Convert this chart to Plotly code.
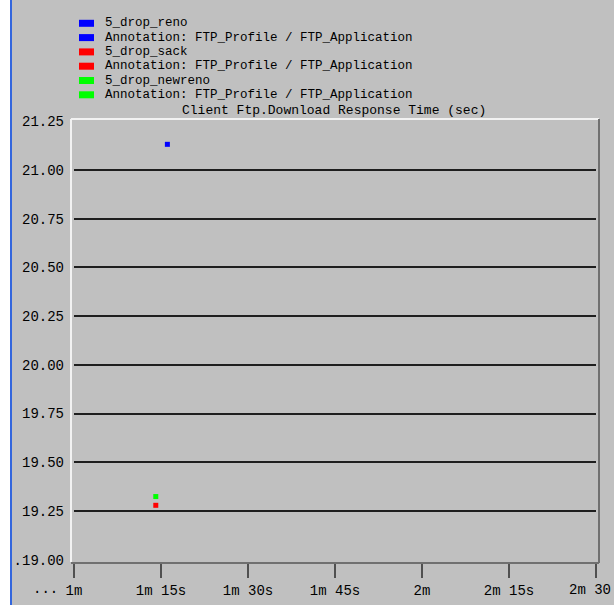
import plotly.graph_objects as go

# ---- data ----
series_names = ["5_drop_reno", "5_drop_sack", "5_drop_newreno"]
series_colors = ["#0000ff", "#ff0000", "#00ff00"]
annotation_label = "Annotation: FTP_Profile / FTP_Application"
series_x_sec = [[76.1], [74.1], [74.1]]          # simulation time (seconds)
series_y = [[21.132], [19.279], [19.324]]       # response time (sec)

title_text = "Client Ftp.Download Response Time (sec)"
x_tickvals = [60, 75, 90, 105, 120, 135, 150]
x_ticktext = ["1m", "1m 15s", "1m 30s", "1m 45s", "2m", "2m 15s", ""]
x_last_label = "2m 30"   # last tick label, shown cut at the window edge as in the source
y_tickvals = [19.00, 19.25, 19.50, 19.75, 20.00, 20.25, 20.50, 20.75, 21.00, 21.25]
y_ticktext = [".19.00", "19.25", "19.50", "19.75", "20.00", "20.25", "20.50", "20.75", "21.00", "21.25"]
y_gridvals = [19.25, 19.50, 19.75, 20.00, 20.25, 20.50, 20.75, 21.00]

# ---- layout geometry (pixels) ----
W, H = 614, 605
L, R, T, B = 74, 18, 119, 43
PW = W - L - R
PH = H - T - B
def px(x):
    return (x - L) / PW
def py(y):
    return (H - B - y) / PH

FONT = "Liberation Mono"
BG = "#c0c0c0"

fig = go.Figure()
for name, color, xs, ys in zip(series_names, series_colors, series_x_sec, series_y):
    fig.add_trace(go.Scatter(
        x=xs, y=ys, mode="markers", name=name,
        marker=dict(symbol="square", size=5, color=color, line=dict(width=0)),
        hoverinfo="skip", showlegend=False, yaxis="y"))

# invisible trace to bind the grid axis
fig.add_trace(go.Scatter(x=[None], y=[None], yaxis="y2", showlegend=False, hoverinfo="skip"))

shapes = []
annotations = []

# custom legend
legend_rows = []
for name, color in zip(series_names, series_colors):
    legend_rows.append((name, color))
    legend_rows.append((annotation_label, color))
row_y0 = 23.3
row_step = 14.3
for i, (label, color) in enumerate(legend_rows):
    cy = row_y0 + i * row_step
    shapes.append(dict(type="rect", xref="paper", yref="paper",
                       x0=px(79), x1=px(94), y0=py(cy + 3.5), y1=py(cy - 3.5),
                       fillcolor=color, line=dict(width=0), layer="above"))
    annotations.append(dict(text=label, xref="paper", yref="paper",
                            x=px(103), y=py(cy), xanchor="left", yanchor="middle",
                            showarrow=False, font=dict(family=FONT, size=12.5, color="#000000")))

annotations.append(dict(text=title_text, xref="paper", yref="paper",
                        x=px(333.5), y=py(110.5), xanchor="center", yanchor="middle",
                        showarrow=False, font=dict(family=FONT, size=13, color="#000000")))
annotations.append(dict(text="...", xref="paper", yref="paper",
                        x=px(45), y=py(589), xanchor="center", yanchor="middle",
                        showarrow=False, font=dict(family=FONT, size=14, color="#000000")))
annotations.append(dict(text=x_last_label, xref="paper", yref="paper",
                        x=px(613), y=py(590), xanchor="right", yanchor="middle",
                        showarrow=False, font=dict(family=FONT, size=14, color="#000000")))

# plot frame (bevel)
shapes += [
    dict(type="line", xref="paper", yref="paper", x0=px(71), x1=px(599), y0=py(119), y1=py(119),
         line=dict(color="#f2f2f2", width=2), layer="above"),
    dict(type="line", xref="paper", yref="paper", x0=px(71), x1=px(71), y0=py(119), y1=py(562),
         line=dict(color="#f2f2f2", width=2), layer="above"),
    dict(type="line", xref="paper", yref="paper", x0=px(599), x1=px(599), y0=py(119), y1=py(563),
         line=dict(color="#707070", width=2), layer="above"),
    dict(type="line", xref="paper", yref="paper", x0=px(71), x1=px(599), y0=py(563), y1=py(563),
         line=dict(color="#707070", width=2), layer="above"),
    # left page edge
    dict(type="rect", xref="paper", yref="paper", x0=px(-1), x1=px(10), y0=py(-1), y1=py(606),
         fillcolor="#ffffff", line=dict(width=0), layer="above"),
    dict(type="line", xref="paper", yref="paper", x0=px(11), x1=px(11), y0=py(-1), y1=py(606),
         line=dict(color="#3366dd", width=2), layer="above"),
]

fig.update_layout(
    width=W, height=H,
    margin=dict(l=L, r=R, t=T, b=B, pad=0, autoexpand=False),
    paper_bgcolor=BG, plot_bgcolor=BG,
    showlegend=False,
    hovermode=False,
    font=dict(family=FONT, size=14, color="#000000"),
    xaxis=dict(range=[60, 150], tickvals=x_tickvals, ticktext=x_ticktext,
               showgrid=False, zeroline=False, showline=False, automargin=False,
               ticks="outside", ticklen=15, tickwidth=2, tickcolor="#505050",
               ticklabeloverflow="allow",
               tickfont=dict(family=FONT, size=14, color="#000000")),
    yaxis=dict(range=[18.988, 21.262], tickvals=y_tickvals, ticktext=y_ticktext,
               showgrid=False, zeroline=False, showline=False, ticks="", automargin=False,
               ticklabelstandoff=9,
               tickfont=dict(family=FONT, size=14, color="#000000")),
    yaxis2=dict(range=[18.988, 21.262], tickvals=y_gridvals, overlaying="y",
                showgrid=True, gridcolor="#1e1e1e", gridwidth=2, automargin=False,
                showticklabels=False, zeroline=False, showline=False, ticks=""),
    shapes=shapes,
    annotations=annotations,
)

fig.write_html(
    "out.html",
    config={"displayModeBar": False},
    post_script="document.body.style.margin='0';document.body.style.overflow='hidden';"
                "document.body.style.background='#c0c0c0';",
)
